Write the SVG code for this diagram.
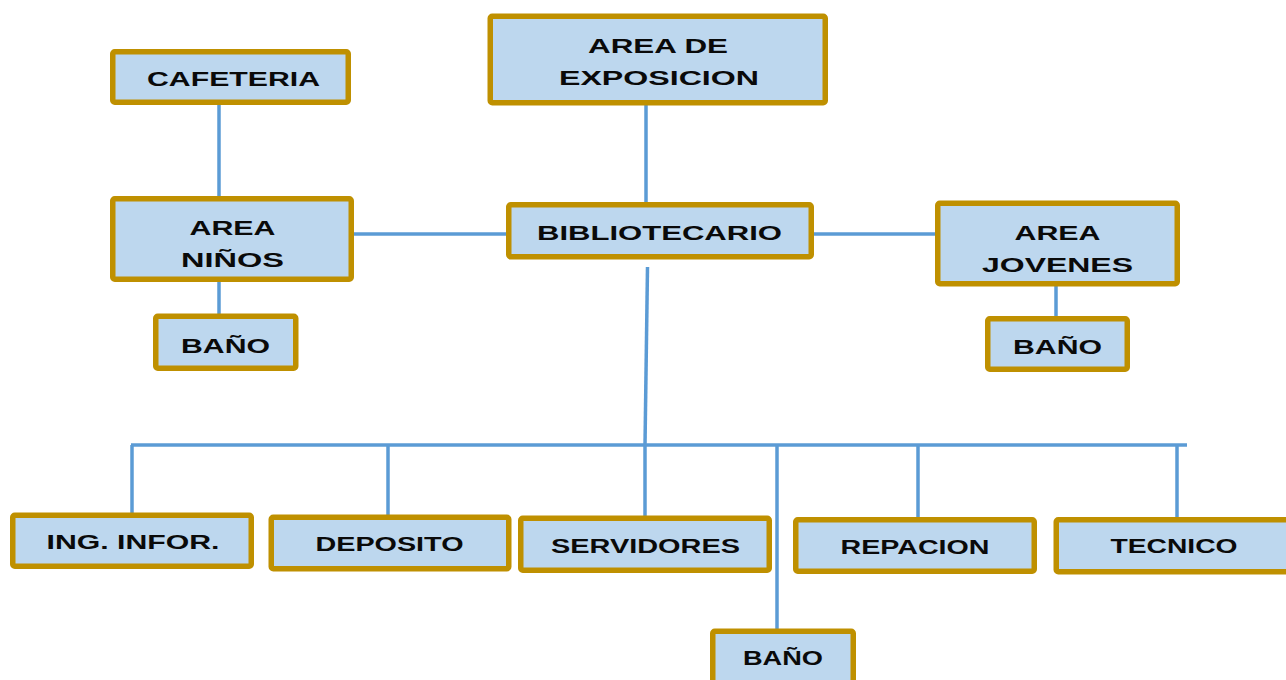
<svg xmlns="http://www.w3.org/2000/svg" width="1286" height="680" viewBox="0 0 1286 680">
<style>
.box{fill:#BDD7EE;stroke:#BF9000;stroke-width:5.5}
.lbl{font-family:"Liberation Sans","DejaVu Sans",Arial,sans-serif;font-weight:bold;font-size:19.5px;fill:#0a0a0a}
.conn{stroke:#5B9BD5;stroke-width:3.5;fill:none}
</style>
<rect width="1286" height="680" fill="#ffffff"/>
<g id="connectors" class="conn">
<path d="M219 105 V198"/>
<path d="M219 282 V315"/>
<path d="M646 105 V204"/>
<path d="M354 234 H508"/>
<path d="M814 234 H937"/>
<path d="M1056 286 V318"/>
<path d="M647.5 267 L645 445"/>
<path d="M131 445 H1187"/>
<path d="M132 445 V519"/>
<path d="M388 445 V517"/>
<path d="M645 445 V518"/>
<path d="M777 445 V631"/>
<path d="M918 445 V519"/>
<path d="M1177 445 V520"/>
</g>
<g id="cafeteria"><rect class="box" x="112.75" y="51.75" width="235.5" height="50.5" rx="2"/><text class="lbl" x="147" y="86" textLength="173" lengthAdjust="spacingAndGlyphs">CAFETERIA</text></g>
<g id="area-exposicion"><rect class="box" x="490.25" y="16.25" width="335" height="86.5" rx="2"/><text class="lbl" x="588" y="52.5" textLength="140" lengthAdjust="spacingAndGlyphs">AREA DE</text><text class="lbl" x="559" y="84.5" textLength="200" lengthAdjust="spacingAndGlyphs">EXPOSICION</text></g>
<g id="bibliotecario"><rect class="box" x="508.75" y="204.75" width="302.5" height="52" rx="2"/><text class="lbl" x="537" y="239.5" textLength="245" lengthAdjust="spacingAndGlyphs">BIBLIOTECARIO</text></g>
<g id="area-ninos"><rect class="box" x="112.75" y="198.75" width="238.5" height="80.5" rx="2"/><text class="lbl" x="189.5" y="234.5" textLength="86" lengthAdjust="spacingAndGlyphs">AREA</text><text class="lbl" x="181" y="266.5" textLength="103" lengthAdjust="spacingAndGlyphs">NIÑOS</text></g>
<g id="bano-ninos"><rect class="box" x="155.75" y="316.25" width="140" height="52" rx="2"/><text class="lbl" x="181" y="352.5" textLength="89" lengthAdjust="spacingAndGlyphs">BAÑO</text></g>
<g id="area-jovenes"><rect class="box" x="937.75" y="203.25" width="239.5" height="80.5" rx="2"/><text class="lbl" x="1014.5" y="239.5" textLength="86" lengthAdjust="spacingAndGlyphs">AREA</text><text class="lbl" x="982" y="271.5" textLength="151" lengthAdjust="spacingAndGlyphs">JOVENES</text></g>
<g id="bano-jovenes"><rect class="box" x="987.75" y="318.75" width="139.5" height="50.5" rx="2"/><text class="lbl" x="1013" y="353.5" textLength="89" lengthAdjust="spacingAndGlyphs">BAÑO</text></g>
<g id="ing-infor"><rect class="box" x="12.75" y="515.25" width="238.5" height="51" rx="2"/><text class="lbl" x="46.5" y="548.5" textLength="173" lengthAdjust="spacingAndGlyphs">ING. INFOR.</text></g>
<g id="deposito"><rect class="box" x="271.25" y="517.25" width="237.5" height="51.5" rx="2"/><text class="lbl" x="315.5" y="550.5" textLength="148" lengthAdjust="spacingAndGlyphs">DEPOSITO</text></g>
<g id="servidores"><rect class="box" x="520.75" y="518.25" width="248.5" height="52" rx="2"/><text class="lbl" x="551" y="553" textLength="189" lengthAdjust="spacingAndGlyphs">SERVIDORES</text></g>
<g id="repacion"><rect class="box" x="795.75" y="519.75" width="238.5" height="51.5" rx="2"/><text class="lbl" x="840.5" y="553.5" textLength="149" lengthAdjust="spacingAndGlyphs">REPACION</text></g>
<g id="tecnico"><rect class="box" x="1056.25" y="519.75" width="240" height="52" rx="2"/><text class="lbl" x="1110.5" y="552.5" textLength="127" lengthAdjust="spacingAndGlyphs">TECNICO</text></g>
<g id="bano-centro"><rect class="box" x="712.75" y="631.25" width="140.5" height="60" rx="2"/><text class="lbl" x="743" y="664.5" textLength="80" lengthAdjust="spacingAndGlyphs">BAÑO</text></g>
</svg>
